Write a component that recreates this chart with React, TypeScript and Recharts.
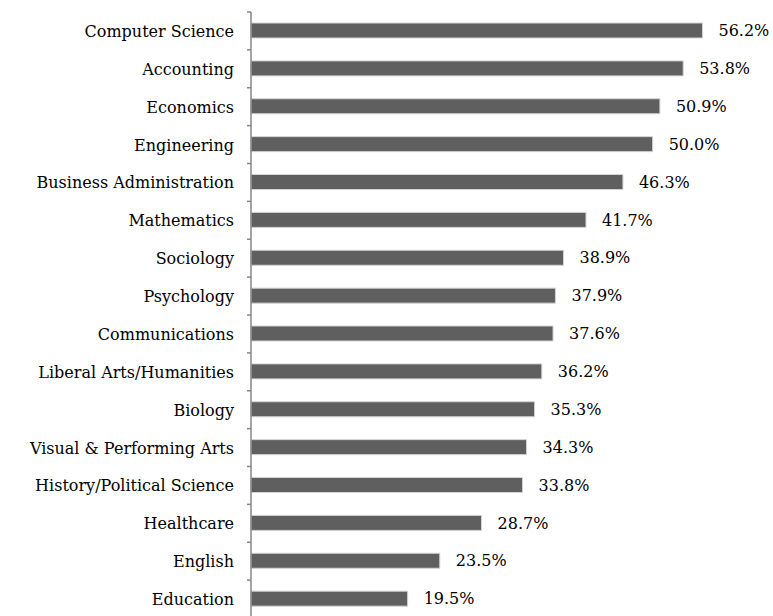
import { BarChart, Bar, XAxis, YAxis, LabelList } from 'recharts'

const majors = [
  'Computer Science',
  'Accounting',
  'Economics',
  'Engineering',
  'Business Administration',
  'Mathematics',
  'Sociology',
  'Psychology',
  'Communications',
  'Liberal Arts/Humanities',
  'Biology',
  'Visual & Performing Arts',
  'History/Political Science',
  'Healthcare',
  'English',
  'Education',
]

const shares = [56.2, 53.8, 50.9, 50.0, 46.3, 41.7, 38.9, 37.9, 37.6, 36.2, 35.3, 34.3, 33.8, 28.7, 23.5, 19.5]

const data = majors.map((name, i) => ({ name, value: shares[i] }))

const FONT = '"DejaVu Serif", serif'
const AXIS = '#868686'

// label at band centre, tick mark at the band's top edge (like the original)
function MajorTick(props: any) {
  const { x, y, payload, index } = props
  const half = payload?.offset ?? 18.9
  return (
    <g>
      <line x1={x + 13} x2={x + 17} y1={y - half} y2={y - half} stroke={AXIS} strokeWidth={1.5} />
      {index === majors.length - 1 && (
        <line x1={x + 13} x2={x + 17} y1={y + half} y2={y + half} stroke={AXIS} strokeWidth={1.5} />
      )}
      <text x={x} y={y} dy={6} textAnchor="end" fill="#000" fontFamily={FONT} fontSize={16}>
        {payload.value}
      </text>
    </g>
  )
}

export default function App() {
  return (
    <div style={{ position: 'absolute', left: 0, top: 0, width: 773, height: 616, overflow: 'hidden', background: '#fff' }}>
      <BarChart
        width={773}
        height={620}
        data={data}
        layout="vertical"
        margin={{ top: 12, right: 40, left: 0, bottom: 2 }}
      >
        <XAxis type="number" domain={[0, 60]} hide />
        <YAxis
          type="category"
          dataKey="name"
          width={251}
          axisLine={{ stroke: AXIS, strokeWidth: 1.5 }}
          tickLine={false}
          tickMargin={11}
          interval={0}
          tick={<MajorTick />}
        />
        <Bar dataKey="value" fill="#5f5f5f" stroke="#d4d4d4" strokeWidth={1} barSize={15} isAnimationActive={false}>
          <LabelList
            dataKey="value"
            position="right"
            offset={16}
            formatter={(v: any) => `${Number(v).toFixed(1)}%`}
            fill="#000"
            fontFamily={FONT}
            fontSize={16}
          />
        </Bar>
      </BarChart>
    </div>
  )
}
